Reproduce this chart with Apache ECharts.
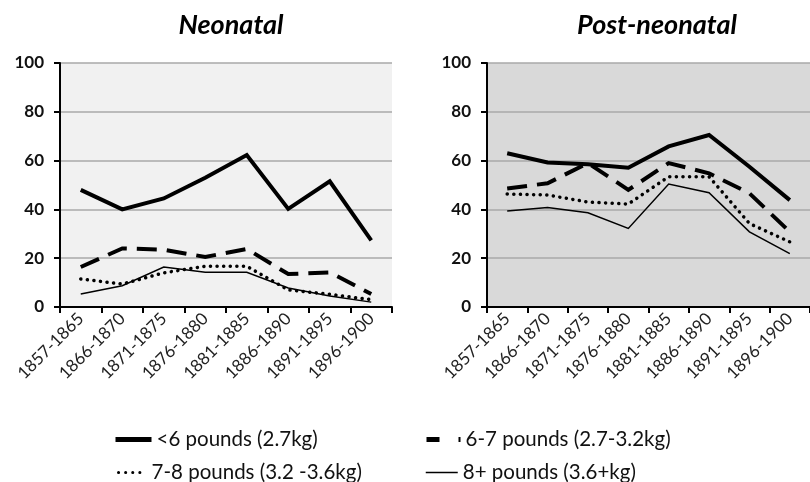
<!DOCTYPE html>
<html><head><meta charset="utf-8">
<script src="https://cdn.jsdelivr.net/npm/echarts@6/dist/echarts.min.js"></script>
<style>html,body{margin:0;padding:0;background:#fff}#c{width:810px;height:482px}</style>
</head><body><div id="c"></div>
<script>
const categories = ['1857-1865','1866-1870','1871-1875','1876-1880','1881-1885','1886-1890','1891-1895','1896-1900'];
const yTicks = [0, 20, 40, 60, 80, 100];
const seriesNames = ['<6 pounds (2.7kg)', '6-7 pounds (2.7-3.2kg)', '7-8 pounds (3.2 -3.6kg)', '8+ pounds (3.6+kg)'];
// Neonatal
const neoLt6 = [48, 40, 44.5, 53, 62.3, 40.2, 51.5, 27.3];
const neo6to7 = [16.4, 24, 23.5, 20.5, 23.8, 13.5, 14.2, 5.3];
const neo7to8 = [11.5, 9.4, 14, 16.7, 16.7, 7, 5.2, 3];
const neo8plus = [5.3, 8.7, 16.4, 14.2, 14.2, 7.8, 4.5, 2];
// Post-neonatal
const postLt6 = [63, 59.2, 58.5, 57.1, 65.8, 70.5, 57.5, 43.8];
const post6to7 = [48.6, 50.7, 59, 48, 59, 54.8, 46.6, 30.8];
const post7to8 = [46.3, 45.9, 43, 42.2, 53.4, 53.4, 34.2, 26.7];
const post8plus = [39.3, 40.8, 38.6, 32.2, 50.4, 46.8, 30.8, 21.9];

const styles = [
  {width: 4, type: 'solid', cap: 'butt'},
  {width: 4, type: [20, 10], cap: 'butt'},
  {width: 3.5, type: [0.1, 6.5], cap: 'round'},
  {width: 1.5, type: 'solid', cap: 'butt'}
];
const neo = [neoLt6, neo6to7, neo7to8, neo8plus];
const post = [postLt6, post6to7, post7to8, post8plus];

const chart = echarts.init(document.getElementById('c'), null, {renderer: 'canvas'});
const FONT = 'Lato, "Open Sans", sans-serif';

function xAxis(gi) {
  return {
    type: 'category', gridIndex: gi, data: categories, boundaryGap: true,
    axisLine: {show: true, lineStyle: {color: '#000', width: 2}},
    axisTick: {show: true, length: 6, lineStyle: {color: '#000', width: 2}},
    axisLabel: {rotate: 45, fontSize: 17, color: '#222', fontFamily: FONT, margin: 9, interval: 0},
    splitLine: {show: false}
  };
}
function yAxis(gi) {
  return {
    type: 'value', gridIndex: gi, min: 0, max: 100, interval: 20,
    axisLine: {show: true, lineStyle: {color: '#000', width: 2}},
    axisTick: {show: true, length: 6, lineStyle: {color: '#000', width: 2}},
    axisLabel: {fontSize: 17, fontWeight: 'bold', color: '#111', fontFamily: FONT, margin: 16,
      formatter: v => yTicks.includes(v) ? String(v) : ''},
    splitLine: {show: true, lineStyle: {color: '#a8a8a8', width: 1.5}}
  };
}
function makeSeries(data, gi) {
  return data.map((d, i) => ({
    name: seriesNames[i], type: 'line', xAxisIndex: gi, yAxisIndex: gi,
    data: d, symbol: 'none', smooth: false, animation: false,
    lineStyle: {color: '#000', width: styles[i].width, type: styles[i].type, cap: styles[i].cap, join: 'miter'},
    itemStyle: {color: '#000'}, z: 10 - i
  }));
}
function legend(i, left, top, w, lineStyle) {
  return {
    data: [seriesNames[i]], left: left, top: top, itemWidth: w, itemHeight: 14, itemGap: 0,
    itemStyle: {opacity: 0},
    lineStyle: lineStyle,
    textStyle: {fontSize: 20.5, color: '#111', fontFamily: FONT},
    selectedMode: false
  };
}

chart.setOption({
  animation: false,
  backgroundColor: '#fff',
  title: [
    {text: 'Neonatal', left: 226, top: 7, textAlign: 'center',
     textStyle: {fontSize: 27, fontStyle: 'italic', fontWeight: 'bold', color: '#000', fontFamily: FONT}},
    {text: 'Post-neonatal', left: 652, top: 7, textAlign: 'center',
     textStyle: {fontSize: 27, fontStyle: 'italic', fontWeight: 'bold', color: '#000', fontFamily: FONT}}
  ],
  grid: [
    {left: 60, top: 63, width: 332, height: 244, show: true, backgroundColor: '#f1f1f1', borderWidth: 0},
    {left: 487, top: 63, width: 334, height: 244, show: true, backgroundColor: '#d9d9d9', borderWidth: 0}
  ],
  legend: [
    legend(0, 108, 424, 36, {width: 5, type: 'solid'}),
    legend(1, 419, 424, 34, {width: 5, type: [13, 19]}),
    legend(2, 112, 457, 28, {width: 3, type: [0.1, 7], cap: 'round'}),
    legend(3, 420, 457, 32, {width: 1.5, type: 'solid'})
  ],
  xAxis: [xAxis(0), xAxis(1)],
  yAxis: [yAxis(0), yAxis(1)],
  series: [...makeSeries(neo, 0), ...makeSeries(post, 1)]
});
</script>
</body></html>
